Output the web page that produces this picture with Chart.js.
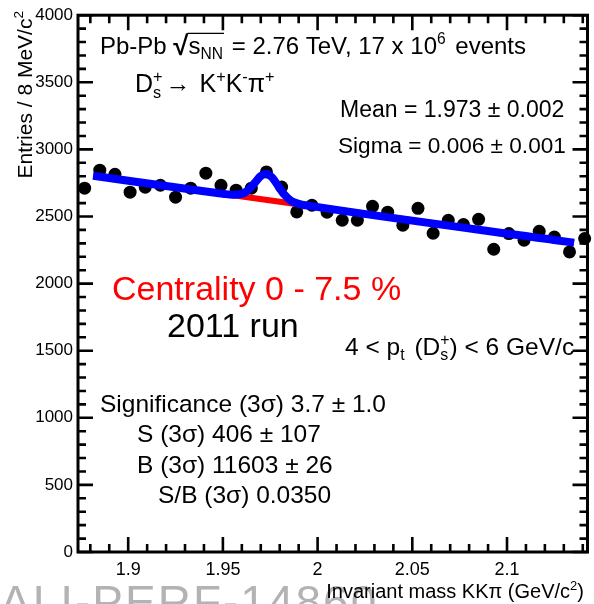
<!DOCTYPE html>
<html>
<head>
<meta charset="utf-8">
<script src="https://cdn.jsdelivr.net/npm/chart.js@4.4.1/dist/chart.umd.min.js"></script>
<style>
  html, body { margin: 0; padding: 0; background: #fff; }
  canvas { display: block; }
</style>
</head>
<body>
<canvas id="c" width="594" height="604"></canvas>
<script>
// ---- data ----
const masses = [1.877, 1.885, 1.893, 1.901, 1.909, 1.917, 1.925, 1.933, 1.941, 1.949,
                1.957, 1.965, 1.973, 1.981, 1.989, 1.997, 2.005, 2.013, 2.021, 2.029,
                2.037, 2.045, 2.053, 2.061, 2.069, 2.077, 2.085, 2.093, 2.101, 2.109,
                2.117, 2.125, 2.133, 2.141];
const entries = [2711, 2845, 2815, 2681, 2718, 2733, 2644, 2711, 2823, 2733,
                 2696, 2711, 2832, 2720, 2534, 2584, 2532, 2472, 2472, 2576,
                 2532, 2435, 2561, 2375, 2472, 2440, 2479, 2256, 2373, 2323,
                 2390, 2347, 2236, 2336];
// total fit curve (blue)
const fitMass  = [1.8815, 1.940, 1.950, 1.955, 1.960, 1.964, 1.967, 1.970, 1.973, 1.976,
                  1.979, 1.982, 1.986, 1.991, 1.996, 2.1354];
const fitTotal = [2804, 2688, 2670, 2662, 2668, 2705, 2754, 2802, 2819, 2790,
                  2731, 2670, 2617, 2591, 2579, 2305];
// background-only fit (red)
const bkgMass   = [1.8815, 2.1354];
const bkgValues = [2804, 2305];

const xTickValues = [1.9, 1.95, 2.0, 2.05, 2.1];
const xTickLabels = ['1.9', '1.95', '2', '2.05', '2.1'];
const yTickValues = [0, 500, 1000, 1500, 2000, 2500, 3000, 3500, 4000];
const yTickLabels = ['0', '500', '1000', '1500', '2000', '2500', '3000', '3500', '4000'];

const FAM = '"Liberation Sans", Arial, Helvetica, sans-serif';

function rich(ctx, x, y, parts, size, color, draw) {
  if (draw === undefined) draw = true;
  let cx = x, barStart = null;
  ctx.fillStyle = color;
  ctx.textAlign = 'left';
  ctx.textBaseline = 'alphabetic';
  for (const p of parts) {
    if (typeof p === 'string') {
      ctx.font = size + 'px ' + FAM;
      if (draw) ctx.fillText(p, cx, y);
      cx += ctx.measureText(p).width;
    } else if (p.sqrtStart) {
      ctx.font = 'bold ' + (size * 1.15) + 'px ' + FAM;
      if (draw) ctx.fillText('\u221A', cx, y + size * 0.05);
      cx += ctx.measureText('\u221A').width;
      barStart = cx - 1;
    } else if (p.sqrtEnd) {
      if (draw) {
        ctx.save();
        ctx.strokeStyle = color; ctx.lineWidth = 1.4;
        ctx.beginPath();
        ctx.moveTo(barStart, y - size * 0.86);
        ctx.lineTo(cx + 1, y - size * 0.86);
        ctx.stroke();
        ctx.restore();
      }
      cx += p.gap || 0;
    } else if (p.space) {
      cx += p.space;
    } else {
      const s = size * 0.65;
      ctx.font = s + 'px ' + FAM;
      let w = 0;
      if (p.sup) { if (draw) ctx.fillText(p.sup, cx, y - size * 0.42); w = Math.max(w, ctx.measureText(p.sup).width); }
      if (p.sub) { if (draw) ctx.fillText(p.sub, cx, y + size * 0.22); w = Math.max(w, ctx.measureText(p.sub).width); }
      cx += w + (p.gap || 0);
    }
  }
  return cx - x;
}

const framePlugin = {
  id: 'frame',
  beforeDatasetsDraw(chart) {
    const { ctx, chartArea: a, scales: { x, y } } = chart;
    ctx.save();
    ctx.strokeStyle = '#000';
    ctx.lineWidth = 3;
    ctx.strokeRect(a.left, a.top, a.right - a.left, a.bottom - a.top);
    ctx.lineWidth = 2.6;
    ctx.beginPath();
    for (let k = 188; k <= 214; k++) {
      const v = k / 100;
      if (v < x.min || v > x.max) continue;
      const px = x.getPixelForValue(v);
      const L = (k % 5 === 0) ? 15 : 8;
      ctx.moveTo(px, a.bottom); ctx.lineTo(px, a.bottom - L);
      ctx.moveTo(px, a.top); ctx.lineTo(px, a.top + L);
    }
    for (let k = 0; k <= 40; k++) {
      const py = y.getPixelForValue(k * 100);
      const L = (k % 5 === 0) ? 15 : 8;
      ctx.moveTo(a.left, py); ctx.lineTo(a.left + L, py);
      ctx.moveTo(a.right, py); ctx.lineTo(a.right - L, py);
    }
    ctx.stroke();
    ctx.restore();
  },
  afterDraw(chart) {
    const ctx = chart.ctx;
    ctx.save();
    // watermark
    ctx.font = '46px ' + FAM;
    ctx.fillStyle = '#b3b3b3';
    try { ctx.letterSpacing = '2px'; } catch (e) {}
    ctx.textAlign = 'left'; ctx.textBaseline = 'alphabetic';
    ctx.fillText('ALI-PERF-14860', 0, 618);
    try { ctx.letterSpacing = '0px'; } catch (e) {}

    // axis titles
    const xt = ['Invariant mass KK\u03C0 (GeV/c', { sup: '2' }, ')'];
    const wx = rich(ctx, 0, 0, xt, 20, '#000', false);
    rich(ctx, 584 - wx, 598, xt, 20, '#000');

    const yt = ['Entries / 8 MeV/c', { sup: '2' }];
    const wy = rich(ctx, 0, 0, yt, 21, '#000', false);
    ctx.save();
    ctx.translate(32, 11 + wy);
    ctx.rotate(-Math.PI / 2);
    rich(ctx, 0, 0, yt, 21, '#000');
    ctx.restore();

    // annotations
    rich(ctx, 100, 54, ['Pb-Pb ', { sqrtStart: true }, 's', { sub: 'NN' }, { sqrtEnd: true, gap: 2 },
      ' = 2.76 TeV, 17 x 10', { sup: '6', gap: 3 }, ' events'], 24, '#000');
    rich(ctx, 135, 92, ['D', { sup: '+', sub: 's', gap: 3 }, '\u2192 ', { space: 2 }, 'K', { sup: '+' }, 'K', { sup: '-' },
      '\u03C0', { sup: '+' }], 25, '#000');
    rich(ctx, 340, 117, ['Mean = 1.973 \u00B1 0.002'], 23, '#000');
    rich(ctx, 338, 153, ['Sigma = 0.006 \u00B1 0.001'], 22.6, '#000');
    rich(ctx, 112, 300, ['Centrality 0 - 7.5 %'], 34, '#ff0000');
    rich(ctx, 167, 337, ['2011 run'], 34, '#000');
    rich(ctx, 345, 355, ['4 < p', { sub: 't', gap: 3 }, ' (D', { sup: '+', sub: 's' }, ') < 6 GeV/c'], 24.5, '#000');
    rich(ctx, 100, 412, ['Significance (3\u03C3) 3.7 \u00B1 1.0'], 24.5, '#000');
    rich(ctx, 137, 442, ['S (3\u03C3) 406 \u00B1 107'], 24.5, '#000');
    rich(ctx, 137, 473, ['B (3\u03C3) 11603 \u00B1 26'], 24.5, '#000');
    rich(ctx, 158, 503, ['S/B (3\u03C3) 0.0350'], 24.5, '#000');
    ctx.restore();
  }
};

const pointsData = masses.map((m, i) => ({ x: m, y: entries[i] }));
const fitData = fitMass.map((m, i) => ({ x: m, y: fitTotal[i] }));
const bkgData = bkgMass.map((m, i) => ({ x: m, y: bkgValues[i] }));

new Chart(document.getElementById('c'), {
  type: 'scatter',
  data: {
    datasets: [
      { label: 'Total fit', data: fitData, showLine: true, borderColor: '#0000ff', borderWidth: 8,
        pointRadius: 0, cubicInterpolationMode: 'monotone', order: 0, clip: false },
      { label: 'Background', data: bkgData, showLine: true, borderColor: '#ff0000', borderWidth: 6,
        pointRadius: 0, order: 1, clip: false },
      { label: 'Data', data: pointsData, showLine: false, pointRadius: 6.5, pointBackgroundColor: '#000',
        pointBorderColor: '#000', pointBorderWidth: 0, order: 2, clip: false }
    ]
  },
  options: {
    responsive: false,
    animation: false,
    layout: { padding: { top: 15, right: 4, left: 0, bottom: 0 } },
    plugins: { legend: { display: false }, tooltip: { enabled: false } },
    scales: {
      x: {
        type: 'linear', min: 1.8735, max: 2.1425,
        grid: { display: false, drawTicks: false }, border: { display: false },
        afterBuildTicks: (s) => { s.ticks = xTickValues.map(v => ({ value: v })); },
        afterFit: (s) => { s.height = 52; },
        ticks: { autoSkip: false, maxRotation: 0, padding: 7, color: '#000',
          font: { family: FAM, size: 18 }, callback: (v, i) => xTickLabels[i] }
      },
      y: {
        type: 'linear', min: 0, max: 4000,
        grid: { display: false, drawTicks: false }, border: { display: false },
        afterBuildTicks: (s) => { s.ticks = yTickValues.map(v => ({ value: v })); },
        afterFit: (s) => { s.width = 78; },
        ticks: { autoSkip: false, padding: 5, color: '#000',
          font: { family: FAM, size: 17 }, callback: (v, i) => yTickLabels[i] }
      }
    }
  },
  plugins: [framePlugin]
});
</script>
</body>
</html>
